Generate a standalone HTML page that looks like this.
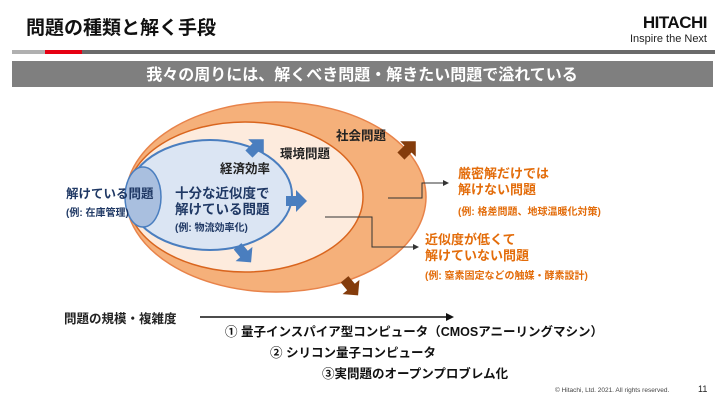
<!DOCTYPE html>
<html><head><meta charset="utf-8"><style>
body{margin:0;background:#fff;}
svg{display:block;font-family:"Liberation Sans","Noto Sans CJK JP",sans-serif;font-weight:bold;}
</style></head><body>
<svg width="725" height="417" viewBox="0 0 725 417" xmlns="http://www.w3.org/2000/svg">
<defs>
<polygon id="ar" points="-10,-5 0,-5 0,-11 11,0 0,11 0,5 -10,5"/>
</defs>
<text x="26" y="34" font-size="19" fill="#111">問題の種類と解く手段</text>
<text x="707" y="28" font-size="17" fill="#111" text-anchor="end" letter-spacing="-0.5">HITACHI</text>
<text x="707" y="42" font-size="11" font-weight="normal" fill="#222" text-anchor="end">Inspire the Next</text>
<rect x="12" y="50" width="33" height="4" fill="#b0b0b0"/>
<rect x="45" y="50" width="37" height="4" fill="#e60012"/>
<rect x="82" y="50" width="633" height="4" fill="#6b6b6b"/>
<rect x="12" y="61" width="701" height="26" fill="#7f7f7f"/>
<text x="362" y="80" font-size="16" fill="#fff" text-anchor="middle">我々の周りには、解くべき問題・解きたい問題で溢れている</text>

<ellipse cx="276" cy="197" rx="150" ry="95" fill="#f5b07a" stroke="#e8834a" stroke-width="1.5"/>
<ellipse cx="245" cy="197" rx="118" ry="75" fill="#fdebdd" stroke="#d9651e" stroke-width="1.5"/>
<ellipse cx="210" cy="195" rx="82" ry="55" fill="#dbe5f3" stroke="#4a7ebf" stroke-width="2"/>
<ellipse cx="143" cy="197" rx="18" ry="30" fill="#a9bfdf" stroke="#4a7ebf" stroke-width="1.5"/>

<g fill="#4a7ebf">
<use href="#ar" transform="translate(256,147) rotate(-45)"/>
<use href="#ar" transform="translate(296,201)"/>
<use href="#ar" transform="translate(244,254) rotate(50)"/>
</g>
<g fill="#843c0c">
<use href="#ar" transform="translate(408,149) rotate(-45)"/>
<use href="#ar" transform="translate(351,287) rotate(50)"/>
</g>

<g stroke="#333" stroke-width="1" fill="none">
<polyline points="388,198 422,198 422,183 444,183"/>
<polyline points="325,217 372,217 372,247 414,247"/>
</g>
<polygon points="449,183 443,180 443,186" fill="#333"/>
<polygon points="419,247 413,244 413,250" fill="#333"/>

<text x="336" y="140" font-size="12.5" fill="#222">社会問題</text>
<text x="280" y="158" font-size="12.5" fill="#222">環境問題</text>
<text x="220" y="173" font-size="12.5" fill="#222">経済効率</text>
<text x="175" y="198" font-size="13.5" fill="#1f3864">十分な近似度で</text>
<text x="175" y="214" font-size="13.5" fill="#1f3864">解けている問題</text>
<text x="175" y="231" font-size="10" fill="#1f3864">(例: 物流効率化)</text>
<text x="66" y="198" font-size="12.5" fill="#1f3864">解けている問題</text>
<text x="66" y="216" font-size="10" fill="#1f3864">(例: 在庫管理)</text>

<g fill="#e36c0a">
<text x="458" y="178" font-size="13">厳密解だけでは</text>
<text x="458" y="194" font-size="13">解けない問題</text>
<text x="458" y="215" font-size="10">(例: 格差問題、地球温暖化対策)</text>
<text x="425" y="244" font-size="13">近似度が低くて</text>
<text x="425" y="260" font-size="13">解けていない問題</text>
<text x="425" y="279" font-size="10">(例: 窒素固定などの触媒・酵素設計)</text>
</g>

<text x="64" y="323" font-size="12.5" fill="#222">問題の規模・複雑度</text>
<line x1="200" y1="317" x2="446" y2="317" stroke="#111" stroke-width="1.5"/>
<polygon points="454,317 446,313 446,321" fill="#111"/>
<text x="225" y="336" font-size="12.5" fill="#111">① 量子インスパイア型コンピュータ（CMOSアニーリングマシン）</text>
<text x="270" y="357" font-size="12.5" fill="#111">② シリコン量子コンピュータ</text>
<text x="322" y="378" font-size="12.5" fill="#111">③実問題のオープンプロブレム化</text>
<text x="555" y="392" font-size="6.5" font-weight="normal" fill="#444">© Hitachi, Ltd. 2021. All rights reserved.</text>
<text x="698" y="392" font-size="9" font-weight="normal" fill="#222">11</text>
</svg>
</body></html>
